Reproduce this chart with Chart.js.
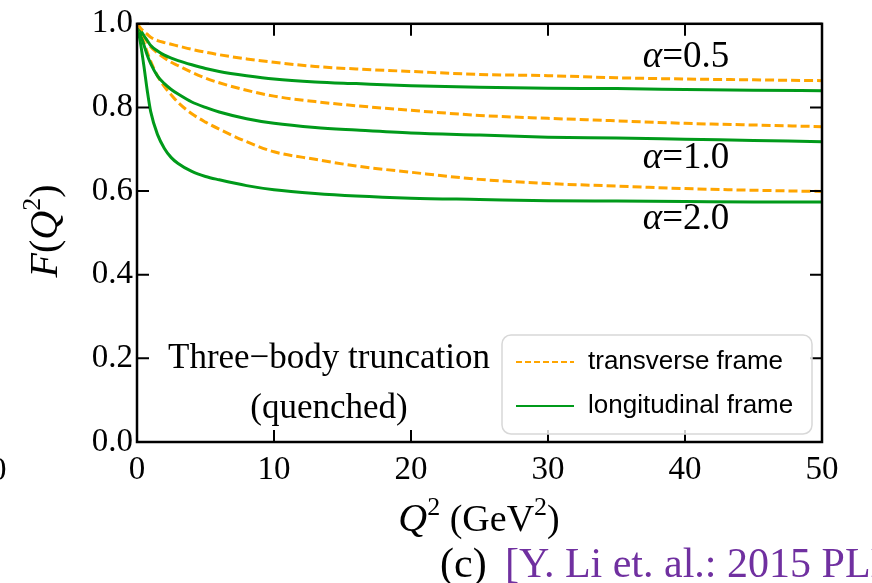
<!DOCTYPE html>
<html>
<head>
<meta charset="utf-8">
<script src="https://cdn.jsdelivr.net/npm/chart.js@4"></script>
<style>
  body { margin: 0; background: #fff; }
  canvas { display: block; }
</style>
</head>
<body>
<canvas id="myChart" width="872" height="583"></canvas>
<script>
// Q^2 sample points (GeV^2)
var q2 = [0, 0.25, 0.5, 0.75, 1, 1.5, 2, 2.5, 3, 4, 5, 6, 8, 10, 13, 16, 20, 25, 30, 35, 40, 45, 50];

// transverse frame (dashed orange)
var transA05 = [1.0, 0.99, 0.982, 0.975, 0.968, 0.96, 0.955, 0.951, 0.947, 0.939, 0.932, 0.926, 0.916, 0.908, 0.898, 0.892, 0.886, 0.879, 0.876, 0.871, 0.868, 0.866, 0.864];
var transA10 = [1.0, 0.985, 0.97, 0.957, 0.945, 0.93, 0.918, 0.908, 0.9, 0.884, 0.87, 0.859, 0.841, 0.827, 0.814, 0.804, 0.793, 0.781, 0.774, 0.768, 0.762, 0.758, 0.754];
var transA20 = [1.0, 0.978, 0.955, 0.932, 0.91, 0.875, 0.85, 0.83, 0.812, 0.785, 0.765, 0.748, 0.718, 0.694, 0.676, 0.66, 0.645, 0.628, 0.618, 0.612, 0.606, 0.602, 0.599];

// longitudinal frame (solid green)
var longA05 = [1.0, 0.985, 0.972, 0.96, 0.948, 0.935, 0.925, 0.918, 0.912, 0.902, 0.893, 0.886, 0.876, 0.868, 0.861, 0.857, 0.852, 0.848, 0.846, 0.845, 0.843, 0.841, 0.84];
var longA10 = [1.0, 0.975, 0.95, 0.925, 0.905, 0.875, 0.857, 0.843, 0.832, 0.813, 0.8, 0.789, 0.773, 0.762, 0.752, 0.746, 0.739, 0.734, 0.729, 0.727, 0.724, 0.721, 0.718];
var longA20 = [1.0, 0.955, 0.9, 0.84, 0.79, 0.735, 0.702, 0.68, 0.666, 0.647, 0.635, 0.627, 0.613, 0.603, 0.594, 0.588, 0.583, 0.58, 0.577, 0.576, 0.575, 0.574, 0.574];

var xTicks = [0, 10, 20, 30, 40, 50];
var yTicks = [0.0, 0.2, 0.4, 0.6, 0.8, 1.0];

var ORANGE = '#ffa500';
var GREEN = '#009a1a';
var SERIF = '"Liberation Serif", "DejaVu Serif", serif';
var SANS = '"Liberation Sans", Arial, sans-serif';

function pts(ys) {
  return q2.map(function (x, i) { return { x: x, y: ys[i] }; });
}
function dashed(label, ys) {
  return { label: label, data: pts(ys), borderColor: ORANGE, borderWidth: 3, borderDash: [9, 4],
    pointRadius: 0, cubicInterpolationMode: 'monotone', fill: false };
}
function solid(label, ys) {
  return { label: label, data: pts(ys), borderColor: GREEN, borderWidth: 3,
    pointRadius: 0, cubicInterpolationMode: 'monotone', fill: false };
}

// draws a run of text pieces [text, font, dy] starting at x
function drawRuns(ctx, runs, x, y, align) {
  var total = 0;
  runs.forEach(function (r) { ctx.font = r[1]; total += ctx.measureText(r[0]).width; });
  var cx = align === 'center' ? x - total / 2 : x;
  ctx.textAlign = 'left';
  runs.forEach(function (r) {
    ctx.font = r[1];
    ctx.fillText(r[0], cx, y + (r[2] || 0));
    cx += ctx.measureText(r[0]).width;
  });
}

var decor = {
  id: 'decor',
  afterDatasetsDraw: function (chart) {
    var ctx = chart.ctx, a = chart.chartArea;
    var xs = chart.scales.x, ys = chart.scales.y;
    ctx.save();
    ctx.strokeStyle = '#000';
    ctx.lineWidth = 2;
    // inward ticks on all four sides
    xTicks.forEach(function (v) {
      var px = xs.getPixelForValue(v);
      ctx.beginPath();
      ctx.moveTo(px, a.bottom); ctx.lineTo(px, a.bottom - 12);
      ctx.moveTo(px, a.top); ctx.lineTo(px, a.top + 12);
      ctx.stroke();
    });
    yTicks.forEach(function (v) {
      var py = ys.getPixelForValue(v);
      ctx.beginPath();
      ctx.moveTo(a.left, py); ctx.lineTo(a.left + 12, py);
      ctx.moveTo(a.right, py); ctx.lineTo(a.right - 12, py);
      ctx.stroke();
    });
    ctx.lineWidth = 2.5;
    ctx.strokeRect(a.left, a.top, a.right - a.left, a.bottom - a.top);

    // alpha labels
    ctx.fillStyle = '#000';
    ctx.textBaseline = 'alphabetic';
    [['0.5', 67], ['1.0', 168], ['2.0', 229]].forEach(function (l) {
      drawRuns(ctx, [['α', 'italic 37px ' + SERIF], ['=' + l[0], '37px ' + SERIF]], 686, l[1], 'center');
    });

    // frame note
    ctx.font = '35px ' + SERIF;
    ctx.textAlign = 'center';
    ctx.fillText('Three\u2212body truncation', 329, 368);
    ctx.fillText('(quenched)', 329, 418);

    // legend
    ctx.fillStyle = 'rgba(255,255,255,0.8)';
    ctx.strokeStyle = '#d8d8d8';
    ctx.lineWidth = 1.5;
    ctx.beginPath();
    ctx.roundRect(502, 335, 310, 99, 9);
    ctx.fill(); ctx.stroke();
    ctx.lineWidth = 2;
    ctx.strokeStyle = ORANGE;
    ctx.setLineDash([6, 3]);
    ctx.beginPath(); ctx.moveTo(516, 362); ctx.lineTo(574, 362); ctx.stroke();
    ctx.setLineDash([]);
    ctx.strokeStyle = GREEN;
    ctx.beginPath(); ctx.moveTo(516, 406); ctx.lineTo(574, 406); ctx.stroke();
    ctx.fillStyle = '#000';
    ctx.font = '26px ' + SANS;
    ctx.textAlign = 'left';
    ctx.textBaseline = 'middle';
    ctx.fillText('transverse frame', 588, 362);
    ctx.fillText('longitudinal frame', 588, 406);

    // axis titles
    ctx.textBaseline = 'alphabetic';
    drawRuns(ctx, [['Q', 'italic 40px ' + SERIF], ['2', '26px ' + SERIF, -16], [' (GeV', '38px ' + SERIF],
      ['2', '26px ' + SERIF, -16], [')', '38px ' + SERIF]], 479, 531, 'center');
    ctx.save();
    ctx.translate(57, 231);
    ctx.rotate(-Math.PI / 2);
    drawRuns(ctx, [['F', 'italic 40px ' + SERIF], ['(', '40px ' + SERIF], ['Q', 'italic 40px ' + SERIF],
      ['2', '26px ' + SERIF, -17], [')', '40px ' + SERIF]], 0, 0, 'center');
    ctx.restore();

    // caption and neighbour panel remnant
    ctx.font = '42px ' + SERIF;
    ctx.textAlign = 'left';
    ctx.fillStyle = '#000';
    ctx.fillText('(c)', 440, 577);
    ctx.fillStyle = '#7030a0';
    ctx.fillText('[Y. Li et. al.: 2015 PLB]', 505, 577);
    ctx.fillStyle = '#000';
    ctx.font = '33px ' + SERIF;
    ctx.fillText('0', -10, 480);
    ctx.restore();
  }
};

var config = {
  type: 'line',
  data: {
    datasets: [
      dashed('transverse frame', transA05),
      solid('longitudinal frame', longA05),
      dashed('transverse α=1.0', transA10),
      solid('longitudinal α=1.0', longA10),
      dashed('transverse α=2.0', transA20),
      solid('longitudinal α=2.0', longA20)
    ]
  },
  options: {
    responsive: false,
    animation: false,
    devicePixelRatio: 1,
    layout: { padding: { top: 17, right: 50, left: 0, bottom: 0 } },
    plugins: { legend: { display: false }, tooltip: { enabled: false } },
    scales: {
      x: {
        type: 'linear', min: 0, max: 50,
        afterFit: function (s) { s.height = 141; },
        afterBuildTicks: function (s) { s.ticks = xTicks.map(function (v) { return { value: v }; }); },
        grid: { display: false, drawTicks: false },
        border: { display: false },
        ticks: { color: '#000', font: { family: SERIF, size: 33 }, padding: 9, maxRotation: 0 }
      },
      y: {
        type: 'linear', min: 0, max: 1,
        afterFit: function (s) { s.width = 137; },
        afterBuildTicks: function (s) { s.ticks = yTicks.map(function (v) { return { value: v }; }); },
        grid: { display: false, drawTicks: false },
        border: { display: false },
        ticks: { color: '#000', font: { family: SERIF, size: 33 }, padding: 4,
          callback: function (v) { return v.toFixed(1); } }
      }
    }
  },
  plugins: [decor]
};

var myChart = new Chart(document.getElementById('myChart'), config);
</script>
</body>
</html>
